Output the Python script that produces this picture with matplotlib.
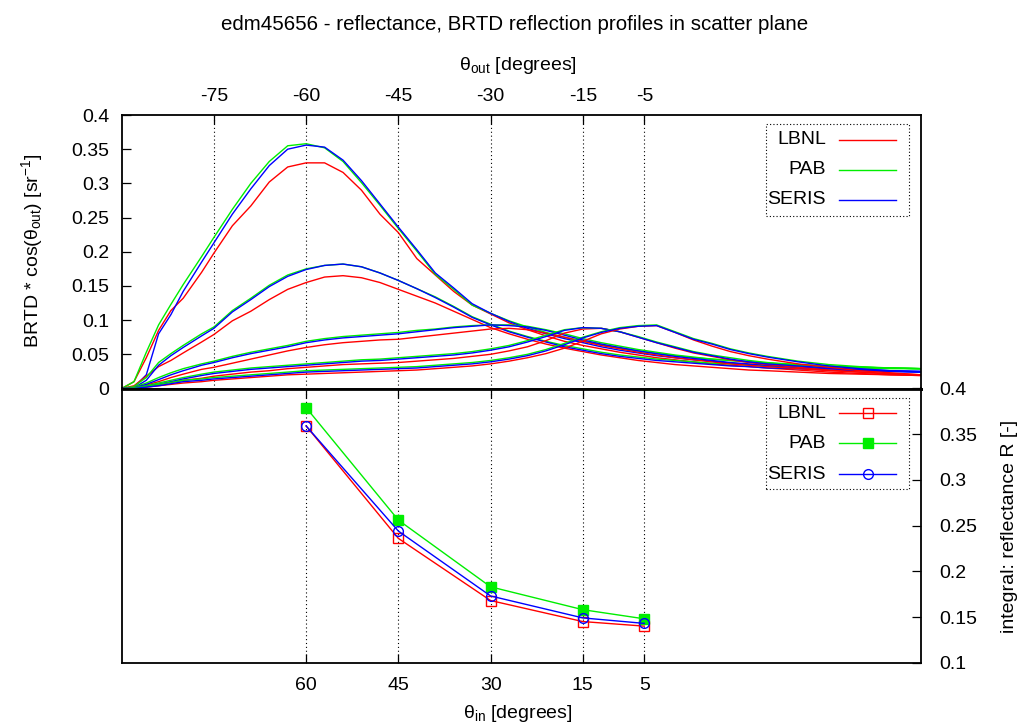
import matplotlib
matplotlib.use('Agg')
import matplotlib.pyplot as plt
from matplotlib.lines import Line2D
from matplotlib.patches import Rectangle

plt.rcParams['font.family'] = ['Liberation Sans', 'DejaVu Sans']
plt.rcParams['mathtext.fontset'] = 'custom'
plt.rcParams['mathtext.rm'] = 'Liberation Sans'
plt.rcParams['mathtext.it'] = 'Liberation Sans:italic'
plt.rcParams['font.size'] = 14

# outgoing angle grid of the BRTD profiles
theta_out = [-90, -88, -86, -84, -82, -80, -77, -75, -72, -69, -66, -63, -60, -57,
             -54, -51, -48, -45, -42, -39, -36, -33, -30, -27, -24, -21, -18, -15,
             -12, -9, -6, -3, 0, 3, 6, 9, 12, 15, 20, 25, 30, 35, 40]

# theta_in = 60
lbnl_60 = [0.000, 0.010, 0.045, 0.085, 0.114, 0.132, 0.170, 0.198, 0.238, 0.267, 0.302,
           0.324, 0.330, 0.330, 0.316, 0.290, 0.255, 0.228, 0.190, 0.166, 0.142, 0.122,
           0.109, 0.096, 0.086, 0.077, 0.069, 0.063, 0.058, 0.053, 0.049, 0.045, 0.042,
           0.039, 0.036, 0.034, 0.032, 0.030, 0.027, 0.024, 0.022, 0.020, 0.019]
pab_60 = [0.000, 0.010, 0.053, 0.093, 0.123, 0.152, 0.193, 0.221, 0.262, 0.300, 0.332,
          0.355, 0.358, 0.352, 0.332, 0.301, 0.268, 0.234, 0.201, 0.167, 0.145, 0.122,
          0.110, 0.099, 0.090, 0.082, 0.075, 0.069, 0.064, 0.059, 0.055, 0.051, 0.048,
          0.045, 0.043, 0.041, 0.039, 0.037, 0.035, 0.033, 0.031, 0.030, 0.029]
seris_60 = [0.000, 0.002, 0.020, 0.080, 0.108, 0.142, 0.185, 0.213, 0.255, 0.292, 0.326,
            0.350, 0.356, 0.353, 0.334, 0.304, 0.270, 0.236, 0.203, 0.169, 0.147, 0.124,
            0.110, 0.098, 0.088, 0.080, 0.073, 0.067, 0.061, 0.056, 0.052, 0.048, 0.045,
            0.042, 0.040, 0.037, 0.035, 0.033, 0.031, 0.029, 0.027, 0.026, 0.025]

# theta_in = 45
lbnl_45 = [0.000, 0.004, 0.018, 0.032, 0.041, 0.052, 0.068, 0.079, 0.099, 0.113, 0.130,
           0.145, 0.155, 0.163, 0.165, 0.162, 0.155, 0.145, 0.135, 0.125, 0.113, 0.101,
           0.089, 0.080, 0.072, 0.065, 0.059, 0.054, 0.049, 0.045, 0.041, 0.038, 0.035,
           0.033, 0.031, 0.029, 0.027, 0.026, 0.024, 0.022, 0.021, 0.020, 0.019]
pab_45 = [0.000, 0.003, 0.016, 0.038, 0.051, 0.063, 0.080, 0.090, 0.114, 0.132, 0.151,
          0.166, 0.175, 0.180, 0.182, 0.178, 0.169, 0.158, 0.146, 0.134, 0.120, 0.105,
          0.094, 0.084, 0.076, 0.069, 0.063, 0.058, 0.053, 0.049, 0.046, 0.043, 0.041,
          0.039, 0.037, 0.036, 0.034, 0.033, 0.032, 0.031, 0.030, 0.029, 0.029]
seris_45 = [0.000, 0.001, 0.012, 0.034, 0.048, 0.060, 0.077, 0.088, 0.112, 0.130, 0.149,
            0.164, 0.174, 0.180, 0.182, 0.178, 0.169, 0.158, 0.146, 0.133, 0.119, 0.104,
            0.093, 0.083, 0.075, 0.068, 0.061, 0.056, 0.051, 0.047, 0.044, 0.041, 0.039,
            0.037, 0.035, 0.033, 0.032, 0.030, 0.029, 0.027, 0.026, 0.025, 0.024]

# theta_in = 30
lbnl_30 = [0.000, 0.002, 0.005, 0.010, 0.016, 0.021, 0.028, 0.031, 0.037, 0.043, 0.049,
           0.055, 0.060, 0.064, 0.067, 0.069, 0.071, 0.072, 0.075, 0.078, 0.081, 0.084,
           0.087, 0.088, 0.086, 0.081, 0.075, 0.069, 0.063, 0.058, 0.053, 0.049, 0.045,
           0.042, 0.039, 0.036, 0.034, 0.032, 0.029, 0.026, 0.024, 0.022, 0.020]
pab_30 = [0.000, 0.002, 0.008, 0.016, 0.023, 0.029, 0.036, 0.040, 0.047, 0.053, 0.058,
          0.063, 0.069, 0.073, 0.076, 0.078, 0.080, 0.082, 0.085, 0.087, 0.090, 0.092,
          0.093, 0.093, 0.091, 0.086, 0.080, 0.073, 0.067, 0.062, 0.057, 0.053, 0.049,
          0.046, 0.043, 0.041, 0.039, 0.037, 0.034, 0.032, 0.031, 0.030, 0.029]
seris_30 = [0.000, 0.001, 0.006, 0.013, 0.020, 0.026, 0.034, 0.038, 0.045, 0.051, 0.056,
            0.061, 0.067, 0.071, 0.074, 0.076, 0.078, 0.080, 0.083, 0.086, 0.089, 0.091,
            0.093, 0.092, 0.090, 0.085, 0.078, 0.071, 0.065, 0.060, 0.055, 0.051, 0.047,
            0.044, 0.041, 0.038, 0.036, 0.034, 0.031, 0.029, 0.027, 0.025, 0.024]

# theta_in = 15
lbnl_15 = [0.000, 0.001, 0.003, 0.006, 0.009, 0.012, 0.015, 0.018, 0.021, 0.024, 0.026,
           0.029, 0.031, 0.033, 0.035, 0.036, 0.037, 0.038, 0.040, 0.042, 0.044, 0.047,
           0.050, 0.055, 0.061, 0.070, 0.081, 0.087, 0.088, 0.083, 0.075, 0.067, 0.059,
           0.052, 0.047, 0.042, 0.038, 0.035, 0.031, 0.027, 0.024, 0.021, 0.020]
pab_15 = [0.000, 0.001, 0.004, 0.008, 0.012, 0.016, 0.021, 0.024, 0.027, 0.030, 0.032,
          0.034, 0.036, 0.038, 0.040, 0.042, 0.043, 0.045, 0.047, 0.049, 0.051, 0.054,
          0.058, 0.063, 0.070, 0.078, 0.086, 0.089, 0.088, 0.083, 0.076, 0.068, 0.061,
          0.054, 0.049, 0.045, 0.041, 0.038, 0.035, 0.032, 0.031, 0.030, 0.029]
seris_15 = [0.000, 0.001, 0.003, 0.006, 0.010, 0.014, 0.019, 0.022, 0.025, 0.028, 0.030,
            0.032, 0.034, 0.036, 0.038, 0.040, 0.041, 0.043, 0.045, 0.047, 0.049, 0.052,
            0.056, 0.061, 0.068, 0.076, 0.085, 0.089, 0.088, 0.083, 0.075, 0.067, 0.060,
            0.053, 0.048, 0.043, 0.039, 0.036, 0.033, 0.030, 0.028, 0.026, 0.025]

# theta_in = 5
lbnl_5 = [0.000, 0.000, 0.002, 0.004, 0.006, 0.008, 0.010, 0.012, 0.014, 0.016, 0.018,
          0.020, 0.021, 0.022, 0.023, 0.024, 0.025, 0.026, 0.027, 0.029, 0.031, 0.033,
          0.036, 0.040, 0.045, 0.051, 0.059, 0.069, 0.080, 0.087, 0.091, 0.092, 0.082,
          0.071, 0.062, 0.054, 0.048, 0.043, 0.036, 0.031, 0.026, 0.023, 0.020]
pab_5 = [0.000, 0.001, 0.003, 0.006, 0.009, 0.012, 0.014, 0.016, 0.018, 0.020, 0.022,
         0.024, 0.026, 0.027, 0.028, 0.029, 0.030, 0.031, 0.032, 0.034, 0.036, 0.038,
         0.041, 0.045, 0.050, 0.057, 0.066, 0.075, 0.083, 0.089, 0.092, 0.093, 0.083,
         0.073, 0.066, 0.058, 0.052, 0.047, 0.040, 0.035, 0.032, 0.030, 0.029]
seris_5 = [0.000, 0.000, 0.002, 0.004, 0.007, 0.010, 0.012, 0.014, 0.016, 0.018, 0.020,
           0.022, 0.024, 0.025, 0.026, 0.027, 0.028, 0.029, 0.030, 0.032, 0.034, 0.036,
           0.039, 0.043, 0.048, 0.055, 0.064, 0.074, 0.082, 0.088, 0.091, 0.092, 0.082,
           0.072, 0.065, 0.057, 0.051, 0.046, 0.039, 0.033, 0.029, 0.026, 0.024]

zero_profile = [0.0] * len(theta_out)

# integral reflectance per incidence angle
theta_in = [60, 45, 30, 15, 5]
r_lbnl = [0.359, 0.236, 0.168, 0.145, 0.140]
r_pab = [0.379, 0.256, 0.183, 0.158, 0.148]
r_seris = [0.359, 0.244, 0.173, 0.149, 0.143]

labels = ['LBNL', 'PAB', 'SERIS']
colors = ['#ff0000', '#00ee00', '#0000ff']
top_ticks = [-75, -60, -45, -30, -15, -5]
bottom_ticks = [60, 45, 30, 15, 5]

profiles = [
    (lbnl_60, pab_60, seris_60),
    (lbnl_45, pab_45, seris_45),
    (lbnl_30, pab_30, seris_30),
    (lbnl_15, pab_15, seris_15),
    (lbnl_5, pab_5, seris_5),
]

W, H = 1031, 726
fig = plt.figure(figsize=(W / 100, H / 100), dpi=100)


def fx(x):
    return x / W


def fy(y):
    return 1 - y / H


L, R = 121.7, 921.0
T1, MID, B2 = 115.0, 388.5, 662.7
ax1 = fig.add_axes([fx(L), fy(MID), (R - L) / W, (MID - T1) / H])
ax2 = fig.add_axes([fx(L), fy(B2), (R - L) / W, (B2 - MID) / H])

grid_style = dict(color='black', linestyle=(0, (1, 2.5)), linewidth=0.8)

# --- top panel: profiles
for group in profiles:
    for vals, c in zip(group, colors):
        ax1.plot(theta_out, vals, color=c, lw=1.0)
for c in colors:
    ax1.plot(theta_out, zero_profile, color=c, lw=1.0, clip_on=False)

ax1.set_xlim(-90, 40)
ax1.set_ylim(0, 0.4)
ax1.set_xticks(top_ticks)
ax1.set_xticklabels([str(t) for t in top_ticks])
ax1.set_yticks([i * 0.05 for i in range(9)])
ax1.set_yticklabels(['%g' % round(i * 0.05, 2) for i in range(9)])
ax1.xaxis.tick_top()
ax1.tick_params(axis='x', direction='in', length=6.5, width=0.9, top=True, bottom=False,
                labeltop=True, labelbottom=False, pad=7)
ax1.tick_params(axis='y', direction='in', length=6.5, width=0.9, left=True, right=False,
                pad=9)
for x in top_ticks:
    ax1.axvline(x, zorder=0, **grid_style)

# --- bottom panel: integral reflectance
ax2.plot(theta_in, r_lbnl, color=colors[0], lw=1.0, marker='s', ms=7,
         mfc='none', mec=colors[0], mew=1.0)
ax2.plot(theta_in, r_pab, color=colors[1], lw=1.0, marker='s', ms=7.5,
         mfc=colors[1], mec=colors[1])
ax2.plot(theta_in, r_seris, color=colors[2], lw=1.0, marker='o', ms=7,
         mfc='none', mec=colors[2], mew=1.0)
ax2.set_xlim(90, -40)
ax2.set_ylim(0.1, 0.4)
ax2.set_xticks(bottom_ticks)
ax2.set_xticklabels([str(t) for t in bottom_ticks])
ax2.set_yticks([0.1 + i * 0.05 for i in range(7)])
ax2.set_yticklabels(['%g' % round(0.1 + i * 0.05, 2) for i in range(7)])
ax2.yaxis.tick_right()
ax2.tick_params(axis='x', direction='in', length=6.5, width=0.9, top=True, bottom=True,
                labeltop=False, labelbottom=True, pad=10)
ax2.tick_params(axis='y', direction='in', length=6.5, width=0.9, left=False, right=True,
                labelleft=False, labelright=True, pad=13)
for x in bottom_ticks:
    ax2.axvline(x, zorder=0, **grid_style)

for ax in (ax1, ax2):
    for s in ax.spines.values():
        s.set_linewidth(1.3)
ax1.spines['bottom'].set_linewidth(2.0)
ax2.spines['top'].set_linewidth(2.0)

# --- texts
fig.text(fx(515), fy(24), 'edm45656 - reflectance, BRTD reflection profiles in scatter plane',
         ha='center', va='center', fontsize=14.8)
fig.text(fx(518), fy(65), r'θ$_{\mathrm{out}}$ [degrees]', ha='center', va='center')
fig.text(fx(518), fy(713), r'θ$_{\mathrm{in}}$ [degrees]', ha='center', va='center')
fig.text(fx(32), fy(251), r'BRTD * cos(θ$_{\mathrm{out}}$) [sr$^{\mathrm{-1}}$]',
         rotation=90, ha='center', va='center')
fig.text(fx(1010), fy(526), 'integral: reflectance R [-]',
         rotation=90, ha='center', va='center')


# --- gnuplot-style keys (text right aligned, sample to the right)
def draw_key(box, rows, markers):
    x0, y0, x1, y1 = box
    fig.add_artist(Rectangle((fx(x0), fy(y1)), (x1 - x0) / W, (y1 - y0) / H,
                             transform=fig.transFigure, fill=False, edgecolor='black',
                             linestyle=(0, (1, 2)), linewidth=0.8))
    for (lab, c, yy), mk in zip(rows, markers):
        fig.text(fx(826), fy(yy), lab, ha='right', va='center')
        fig.add_artist(Line2D([fx(839), fx(896)], [fy(yy), fy(yy)], color=c, lw=1.0,
                              transform=fig.transFigure))
        if mk is not None:
            fig.add_artist(Line2D([fx(868)], [fy(yy)], transform=fig.transFigure, **mk))


draw_key((765.7, 124.3, 908.7, 215.7),
         [(labels[i], colors[i], yy) for i, yy in enumerate([140, 170, 200])],
         [None, None, None])
draw_key((765.7, 398.3, 908.7, 489.0),
         [(labels[i], colors[i], yy) for i, yy in enumerate([413.3, 443.3, 474.3])],
         [dict(marker='s', ms=7, mfc='none', mec=colors[0], mew=1.0, ls='none'),
          dict(marker='s', ms=7.5, mfc=colors[1], mec=colors[1], ls='none'),
          dict(marker='o', ms=7, mfc='none', mec=colors[2], mew=1.0, ls='none')])

fig.savefig('out.png', dpi=100)
